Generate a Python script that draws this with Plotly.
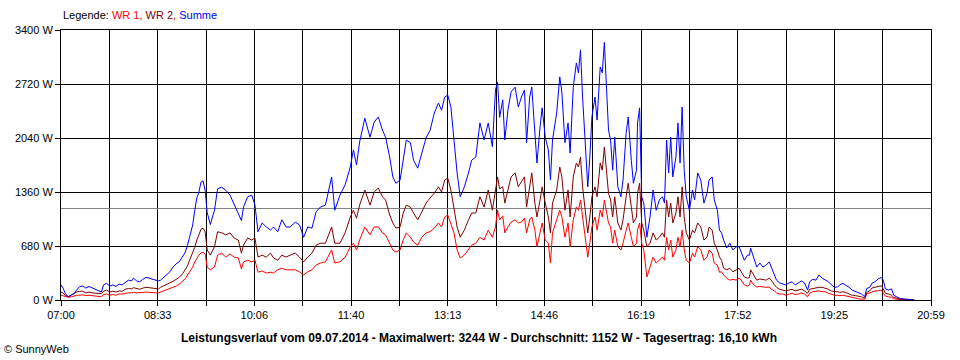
import plotly.graph_objects as go

# ---- data ----
# sample time in minutes after 07:00
minutes = [0, 2, 4, 7, 10, 13, 15, 18, 21, 24, 27, 30, 33, 36, 39, 41, 44, 47, 50, 53,
           56, 59, 62, 65, 68, 70, 73, 76, 79, 82, 85, 88, 91, 94, 96, 99, 102, 105, 108, 111,
           114, 117, 120, 122, 124, 127, 129, 131, 133, 135, 137, 139, 141, 144, 148, 151, 155, 159, 163, 167,
           171, 174, 176, 180, 184, 187, 190, 194, 198, 202, 205, 209, 213, 217, 221, 226, 230, 234, 238, 242,
           246, 250, 255, 259, 261, 264, 269, 274, 279, 282, 285, 288, 293, 298, 302, 306, 310, 313, 317, 320,
           323, 327, 330, 333, 337, 340, 344, 348, 352, 356, 360, 364, 367, 370, 373, 376, 379, 382, 385, 389,
           393, 396, 400, 404, 408, 412, 416, 419, 421, 423, 426, 428, 431, 434, 438, 441, 444, 447, 449, 452,
           454, 457, 459, 462, 464, 467, 470, 472, 474, 478, 481, 483, 486, 489, 491, 494, 497, 499, 501, 503,
           506, 508, 510, 512, 515, 517, 520, 522, 524, 526, 528, 530, 532, 534, 537, 540, 542, 545, 547, 550,
           552, 555, 556, 558, 560, 562, 565, 568, 571, 574, 577, 580, 582, 584, 586, 588, 590, 593, 595, 597,
           599, 601, 603, 606, 609, 611, 614, 617, 620, 623, 625, 628, 630, 633, 635, 637, 639, 642, 645, 648,
           651, 654, 656, 659, 662, 664, 665, 668, 671, 674, 677, 680, 683, 685, 688, 690, 693, 696, 699, 702,
           705, 708, 711, 714, 717, 720, 722, 725, 728, 731, 734, 737, 740, 743, 746, 749, 751, 754, 757, 760,
           763, 766, 769, 772, 775, 777, 780, 782, 785, 788, 791, 793, 795, 798, 801, 803, 806, 809, 812, 815,
           819, 823]

summe = [190, 150, 85, 40, 65, 85, 125, 170, 175, 150, 170, 150, 135, 115, 100, 190, 210, 175, 190, 170,
         200, 190, 215, 250, 240, 275, 240, 230, 260, 285, 275, 260, 250, 240, 250, 285, 315, 355, 415, 455,
         480, 540, 605, 690, 790, 945, 1130, 1285, 1360, 1485, 1500, 1380, 1100, 950, 1130, 1400, 1420, 1380, 1320, 1200,
         1100, 1000, 1170, 1300, 1320, 1200, 860, 970, 920, 880, 920, 860, 1010, 920, 920, 980, 945, 790, 920, 905,
         1110, 1170, 1195, 1450, 1550, 1130, 1320, 1450, 1675, 1890, 1700, 1990, 2290, 2050, 2240, 2305, 2140, 2050, 1800, 1550,
         1470, 1510, 1760, 2015, 1980, 1760, 1660, 1850, 2040, 2140, 2355, 2480, 2390, 2555, 2580, 2430, 2015, 1600, 1300, 1425,
         1600, 1760, 1800, 2230, 2015, 2230, 1930, 2645, 2745, 2300, 2520, 2015, 2390, 2620, 2680, 2430, 2555, 2645, 1980, 2555,
         2680, 2140, 1725, 2180, 2420, 2050, 1890, 1510, 2015, 2355, 2810, 2620, 1980, 2230, 1850, 2680, 2985, 2860, 3150, 2555,
         1800, 1425, 1800, 2305, 2555, 2265, 2935, 2860, 3244, 2770, 2140, 2015, 1635, 2050, 1425, 1300, 1510, 2100, 2305, 1760,
         1470, 1635, 2230, 2420, 1300, 1220, 790, 1045, 1385, 1130, 1260, 1300, 1220, 2015, 1600, 2050, 1550, 1800, 2230, 1725,
         2430, 1635, 1300, 1130, 1385, 1260, 1600, 1510, 1220, 1345, 1510, 1550, 1260, 1130, 880, 845, 755, 655, 715, 630,
         670, 670, 605, 500, 565, 565, 655, 530, 415, 465, 415, 440, 480, 415, 315, 250, 215, 200, 190, 215,
         230, 190, 210, 240, 215, 125, 230, 260, 250, 315, 275, 250, 230, 190, 160, 165, 190, 210, 190, 160,
         125, 105, 95, 75, 40, 145, 160, 210, 230, 265, 285, 250, 140, 125, 140, 60, 40, 20, 15, 10,
         10, 0]

wr2 = [100, 90, 60, 40, 60, 85, 100, 110, 110, 90, 100, 90, 85, 80, 80, 110, 125, 100, 110, 100,
       115, 110, 135, 145, 140, 155, 140, 135, 150, 160, 155, 150, 145, 140, 160, 175, 195, 215, 235, 260,
       285, 325, 380, 430, 500, 590, 665, 755, 830, 890, 905, 860, 630, 565, 670, 860, 845, 820, 845, 780,
       755, 590, 690, 780, 755, 780, 540, 565, 540, 590, 530, 500, 565, 540, 565, 590, 540, 480, 540, 590,
       690, 715, 715, 845, 920, 715, 715, 845, 1045, 1130, 1030, 1195, 1385, 1195, 1360, 1410, 1300, 1260, 1070, 970,
       905, 920, 1095, 1195, 1170, 1095, 1010, 1110, 1220, 1285, 1345, 1425, 1360, 1510, 1535, 1385, 1170, 920, 790, 880,
       1010, 1095, 1095, 1300, 1170, 1385, 1130, 1385, 1550, 1400, 1425, 1220, 1385, 1550, 1600, 1425, 1490, 1550, 1170, 1470,
       1600, 1220, 1045, 1260, 1425, 1220, 1045, 845, 1220, 1385, 1675, 1550, 1130, 1385, 1045, 1550, 1725, 1675, 1800, 1425,
       1045, 845, 1045, 1300, 1425, 1300, 1725, 1635, 1925, 1600, 1345, 1260, 1045, 1300, 970, 880, 1010, 1300, 1470, 1170,
       970, 1045, 1345, 1470, 970, 880, 670, 715, 845, 755, 790, 845, 790, 1260, 1045, 1220, 970, 1095, 1300, 1045,
       1425, 1045, 845, 755, 880, 845, 970, 920, 755, 790, 920, 880, 715, 630, 540, 500, 400, 380, 400, 355,
       380, 400, 355, 290, 275, 285, 380, 315, 250, 265, 260, 250, 275, 250, 190, 160, 135, 125, 115, 125,
       135, 115, 125, 135, 115, 85, 135, 145, 150, 160, 160, 150, 135, 115, 105, 105, 95, 105, 95, 75,
       60, 55, 50, 40, 20, 95, 115, 150, 160, 170, 180, 140, 85, 75, 60, 35, 20, 10, 5, 5,
       5, 0]

wr1 = [60, 50, 40, 35, 40, 50, 60, 60, 65, 55, 60, 55, 50, 40, 40, 70, 75, 60, 70, 60,
       75, 75, 85, 90, 90, 95, 90, 90, 95, 100, 95, 95, 90, 90, 100, 110, 125, 140, 160, 175,
       200, 230, 270, 315, 355, 415, 480, 530, 565, 590, 600, 580, 415, 380, 415, 565, 590, 540, 580, 540,
       530, 390, 480, 500, 480, 500, 350, 365, 340, 350, 340, 380, 400, 380, 380, 380, 355, 315, 355, 380,
       440, 465, 480, 590, 630, 465, 480, 540, 670, 715, 630, 755, 920, 820, 920, 920, 845, 820, 715, 630,
       605, 630, 755, 845, 790, 730, 690, 790, 845, 860, 905, 970, 920, 1045, 1070, 970, 845, 630, 530, 565,
       630, 690, 715, 790, 755, 880, 790, 920, 1130, 1010, 1060, 845, 920, 980, 1010, 970, 980, 1030, 845, 1010,
       1045, 880, 670, 880, 970, 755, 715, 465, 845, 1010, 1130, 1045, 790, 970, 670, 1010, 1170, 1130, 1260, 1045,
       755, 540, 715, 920, 1045, 880, 1130, 1045, 1260, 1130, 970, 920, 715, 880, 670, 630, 715, 880, 970, 790,
       670, 715, 880, 970, 715, 630, 290, 415, 540, 465, 500, 540, 500, 790, 630, 755, 540, 630, 790, 670,
       880, 630, 500, 465, 590, 540, 670, 630, 500, 540, 630, 590, 465, 440, 350, 355, 315, 275, 250, 260,
       250, 275, 250, 190, 175, 190, 250, 190, 165, 170, 165, 160, 165, 135, 115, 90, 75, 75, 60, 75,
       85, 70, 75, 90, 75, 40, 85, 105, 110, 115, 105, 105, 85, 70, 60, 60, 55, 60, 50, 40,
       35, 20, 15, 10, 10, 75, 90, 105, 115, 115, 125, 85, 50, 40, 35, 15, 10, 5, 0, 0,
       0, 0]

average_w = 1152
y_ticks = [0, 680, 1360, 2040, 2720, 3400]
x_tick_labels = ["07:00", "08:33", "10:06", "11:40", "13:13", "14:46", "16:19", "17:52", "19:25", "20:59"]
day_span_min = 839  # 07:00 .. 20:59

title_text = ("Leistungsverlauf vom 09.07.2014 - Maximalwert: 3244 W - "
              "Durchschnitt: 1152 W - Tagesertrag: 16,10 kWh")

# ---- figure ----
FONT = "Liberation Sans, Arial, sans-serif"

fig = go.Figure()
fig.add_trace(go.Scatter(x=minutes, y=wr1, mode="lines", name="WR 1",
                         line=dict(color="#FF0000", width=1)))
fig.add_trace(go.Scatter(x=minutes, y=wr2, mode="lines", name="WR 2",
                         line=dict(color="#800000", width=1)))
fig.add_trace(go.Scatter(x=minutes, y=summe, mode="lines", name="Summe",
                         line=dict(color="#0000FF", width=1)))

# average line
fig.add_shape(type="line", xref="x", yref="y", x0=0, x1=day_span_min,
              y0=average_w, y1=average_w, line=dict(color="#808080", width=1),
              layer="between")

n_grid = 2 * (len(x_tick_labels) - 1)
x_tickvals = [i * day_span_min / n_grid for i in range(n_grid + 1)]
x_ticktext = [x_tick_labels[i // 2] if i % 2 == 0 else "" for i in range(n_grid + 1)]

fig.update_xaxes(range=[0, day_span_min], tickmode="array", tickvals=x_tickvals,
                 ticktext=x_ticktext, showgrid=True, gridcolor="black", gridwidth=1,
                 ticks="outside", ticklen=5, tickcolor="black", tickwidth=1,
                 showline=True, linecolor="black", linewidth=1, mirror=True,
                 zeroline=False, automargin=False,
                 tickfont=dict(family=FONT, size=11, color="black"))
fig.update_yaxes(range=[0, 3400], tickmode="array", tickvals=y_ticks,
                 ticktext=[f"{v} W" for v in y_ticks], showgrid=True,
                 gridcolor="black", gridwidth=1, ticks="outside", ticklen=5,
                 tickcolor="black", tickwidth=1, showline=True, linecolor="black",
                 linewidth=1, mirror=True, zeroline=False, automargin=False,
                 tickfont=dict(family=FONT, size=11, color="black"))

fig.add_annotation(xref="paper", yref="paper", x=0, y=1, yshift=7,
                   xanchor="left", yanchor="bottom", showarrow=False,
                   text=("Legende: <span style='color:#FF0000'>WR 1,</span> "
                         "<span style='color:#800000'>WR 2,</span> "
                         "<span style='color:#0000FF'>Summe</span>"),
                   font=dict(family=FONT, size=11, color="black"))
fig.add_annotation(xref="paper", yref="paper", x=0.48, y=0, yshift=-38,
                   xanchor="center", yanchor="middle", showarrow=False,
                   text="<b>" + title_text + "</b>",
                   font=dict(family=FONT, size=12, color="black"))
fig.add_annotation(xref="paper", yref="paper", x=0, xshift=-59, y=0, yshift=-49,
                   xanchor="left", yanchor="middle", showarrow=False,
                   text="© SunnyWeb",
                   font=dict(family=FONT, size=11, color="black"))

fig.update_layout(width=960, height=360, paper_bgcolor="white", plot_bgcolor="white",
                  showlegend=False, margin=dict(l=61, r=29, t=30, b=60, autoexpand=False),
                  font=dict(family=FONT))

fig.write_html("out.html", config={"displayModeBar": False},
               post_script="document.body.style.margin='0';document.body.style.overflow='hidden';")
